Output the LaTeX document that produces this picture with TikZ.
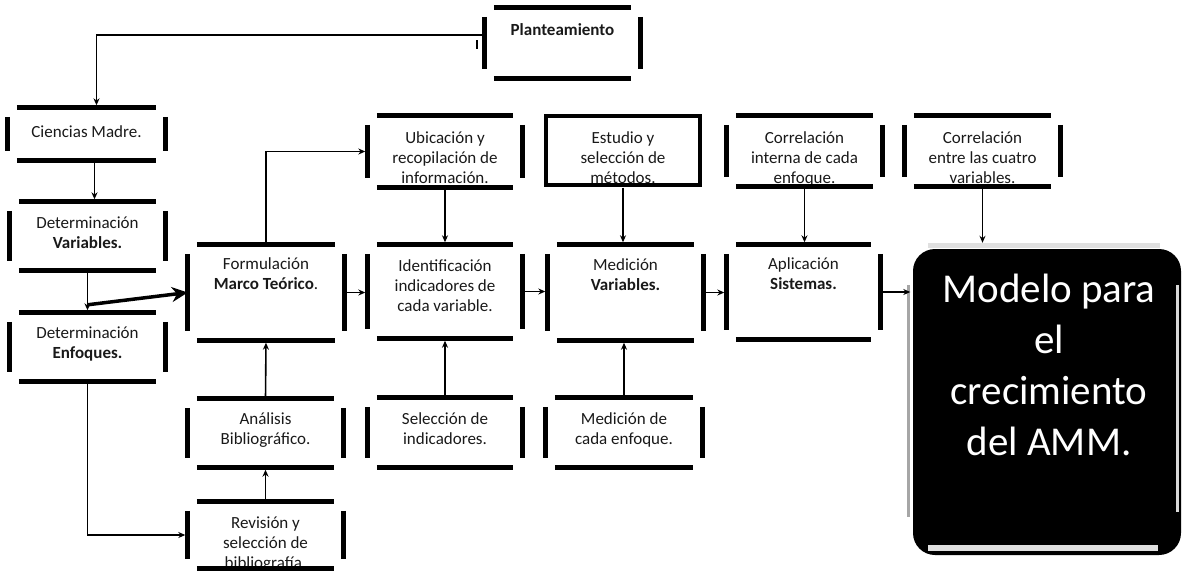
\documentclass[tikz,border=0pt]{standalone}
\usepackage{fontspec}
\setmainfont{Carlito}
\usetikzlibrary{fit,arrows.meta}
\tikzset{
  bar/.style={line width=5pt, line cap=butt, black},
  txt/.style={inner sep=0pt, text height=12pt, font=\fontsize{17}{20}\selectfont, text=black!90},
  conn/.style={line width=1.6pt, -{Stealth[length=7pt,width=6pt]}, shorten >=2.5pt, shorten <=2.5pt},
  thickarrow/.style={line width=3.5pt, -{Stealth[length=16pt,width=15pt]}},
}
\newcommand\mkbox[7]{%
  \coordinate (#1-nw) at (#2,#3);
  \coordinate (#1-se) at (#4,#5);
  \node[fit=(#1-nw)(#1-se), inner sep=0pt] (#1) {};
  \node[txt, anchor=north] (#1-t) at ([yshift=-#7pt]#1.north) {\begin{tabular}[t]{@{}c@{}}#6\end{tabular}};
}
\newcommand\mkbars[1]{%
  \draw[bar] ([xshift=9pt]#1.north west) -- ([xshift=-9pt]#1.north east);
  \draw[bar] ([xshift=9pt]#1.south west) -- ([xshift=-9pt]#1.south east);
  \draw[bar] ([yshift=-9pt]#1.north west) -- ([yshift=9pt]#1.south west);
  \draw[bar] ([yshift=-9pt]#1.north east) -- ([yshift=9pt]#1.south east);
}
\begin{document}
\begin{tikzpicture}[x=1pt,y=-1pt]
\useasboundingbox (0,0) rectangle (1183,571);
% boxes
\mkbox{pl}{485}{8}{640}{78}{\textbf{Planteamiento}}{15}
\mkbox{cm}{8}{108}{165}{160}{Ciencias Madre.}{17}
\mkbox{dv}{10}{202}{165}{270}{Determinación\\\textbf{Variables.}}{14}
\mkbox{de}{10}{313}{165}{381}{Determinación\\\textbf{Enfoques.}}{13}
\mkbox{fm}{188}{245}{344}{340}{Formulación\\\textbf{Marco Teórico}.}{12}
\mkbox{an}{188}{399}{343}{467}{Análisis\\Bibliográfico.}{13}
\mkbox{rv}{188}{502}{343}{568}{Revisión y\\selección de\\bibliografía.}{14}
\mkbox{ub}{368}{116}{522}{187}{Ubicación y\\recopilación de\\información.}{15}
\mkbox{es}{546}{116}{700}{185}{Estudio y\\selección de\\métodos.}{15}
\mkbox{ci}{727}{116}{882}{186}{Correlación\\interna de cada\\enfoque.}{15}
\mkbox{ce}{905}{116}{1060}{186}{Correlación\\entre las cuatro\\variables.}{15}
\mkbox{id}{368}{245}{522}{338}{Identificación\\indicadores de\\cada variable.}{14}
\mkbox{md}{548}{245}{703}{340}{Medición\\\textbf{Variables.}}{13}
\mkbox{ap}{727}{245}{880}{339}{Aplicación\\\textbf{Sistemas.}}{12}
\mkbox{si}{368}{398}{522}{467}{Selección de\\indicadores.}{14}
\mkbox{mc}{546}{398}{702}{467}{Medición de\\cada enfoque.}{14}
\foreach \b in {pl,cm,dv,de,fm,an,rv,ub,ci,ce,id,md,ap,si,mc} {\mkbars{\b}}
\draw[line width=4pt] (es.north west) rectangle (es.south east);
% final model box
\coordinate (mo-nw) at (913,249);
\coordinate (mo-se) at (1181,555);
\node[fit=(mo-nw)(mo-se), inner sep=0pt, fill=black, rounded corners=22pt] (mo) {};
\draw[line width=5pt, black!12] (928,245) -- (1160,245);
\draw[line width=3pt, black!35] (908,285) -- (908,517);
\draw[line width=3pt, black!15] (1177,285) -- (1177,512);
\draw[line width=6pt, black!12] (928,548) -- (1158,548);
\node[inner sep=0pt, anchor=north, text height=30pt, text=white,
      font=\fontsize{41}{51}\selectfont] (mo-t) at (1049,272)
      {\begin{tabular}[t]{@{}c@{}}Modelo para\\el\\crecimiento\\del AMM.\end{tabular}};
% connectors
\draw[line width=1.5pt] (477,40) -- (477,49);
\draw[conn, shorten <=0pt] ([yshift=8pt]pl.west) -| ([xshift=10pt]cm.north);
\draw[conn] ([xshift=8pt]cm.south) -- ([xshift=8pt]cm.south |- dv.north);
\draw[conn] (dv.south) -- (de.north);
\draw[thickarrow] ([yshift=8pt]de.north) -- (fm.west);
\draw[conn] (de.south) |- (rv.west);
\draw[conn] (rv.north) -- (an.south);
\draw[conn] (an.north) -- (fm.south);
\draw[conn] (fm.north) |- (ub.west);
\draw[conn] (fm.east) -- (fm.east -| id.west);
\draw[conn] (id.east) -- (id.east -| md.west);
\draw[conn] (md.east) -- (md.east -| ap.west);
\draw[conn] (ap.east) -- (ap.east -| mo.west);
\draw[conn] (ub.south) -- (id.north);
\draw[conn] (es.south) -- (es.south |- md.north);
\draw[conn] (ci.south) -- (ci.south |- ap.north);
\draw[conn, shorten >=6pt] (ce.south) -- (ce.south |- mo.north);
\draw[conn] (si.north) -- (id.south);
\draw[conn] (mc.north) -- (mc.north |- md.south);
\end{tikzpicture}
\end{document}
